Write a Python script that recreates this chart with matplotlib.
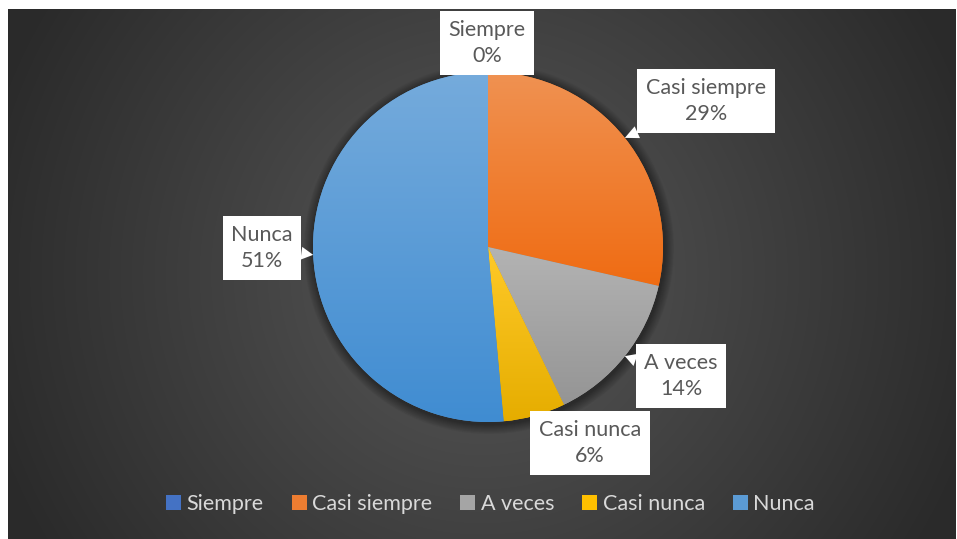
import numpy as np
import matplotlib.pyplot as plt
import colorsys
from matplotlib.colors import to_rgb

categorias = ["Siempre", "Casi siempre", "A veces", "Casi nunca", "Nunca"]
frecuencias = [0, 10, 5, 2, 18]
colores = ["#4472C4", "#ED7D31", "#A5A5A5", "#FFC000", "#5B9BD5"]

# label box centres, in pixels from the top-left corner (layout only)
pos_etiquetas = [(487, 43), (706, 101), (681, 376), (590, 443), (262, 248)]

W, H = 957, 539
FUENTE = ["Lato", "DejaVu Sans"]
plt.rcParams["font.family"] = FUENTE


def tono(col, dl, ds=1.0):
    h, l, s = colorsys.rgb_to_hls(*to_rgb(col))
    if dl > 0:
        l = l + (1 - l) * dl
    else:
        l = l * (1 + dl)
    return np.array(colorsys.hls_to_rgb(h, l, min(1.0, s * ds)))


fig = plt.figure(figsize=(W / 100, H / 100), dpi=100, facecolor="white")
ax = fig.add_axes([0, 0, 1, 1])
ax.axis("off")

# dark radial background
x0, x1, ytop = 8, 956, 9
yy, xx = np.mgrid[0:H - ytop, 0:x1 - x0]
r = np.hypot(xx - (x1 - x0) / 2, yy - (H - ytop) / 2)
v = (88 - 46 * np.clip(r / 520, 0, 1)) / 255
ax.imshow(np.dstack([v, v, v]), extent=[x0, x1, 0, H - ytop], origin="upper",
          aspect="auto", zorder=0, interpolation="bilinear")

cx, cy, R = 488, H - 247, 175

# soft shadow round the pie
for k in range(10, 0, -1):
    ax.add_patch(plt.Circle((cx + 1, cy - 2), R + k, fc="black", ec="none",
                            alpha=0.045, zorder=1))

wedges, _ = ax.pie(frecuencias, colors=colores, startangle=90, counterclock=False,
                   center=(cx, cy), radius=R, wedgeprops=dict(linewidth=0))
for w in wedges:
    w.set_zorder(2)

# vertical gradient in each slice, light on top
for w, col in zip(wedges, colores):
    if w.theta2 - w.theta1 <= 0:
        continue
    claro = tono(col, 0.16)
    oscuro = tono(col, -0.1, 1.04)
    t = np.linspace(0, 1, 256)[:, None, None]
    grad = oscuro * (1 - t) + claro * t
    bb = w.get_path().get_extents()
    im = ax.imshow(grad, extent=[bb.x0, bb.x1, bb.y0, bb.y1], origin="lower",
                   aspect="auto", zorder=3, interpolation="bilinear")
    im.set_clip_path(w)

total = sum(frecuencias)
for w, cat, val, (lx, ly) in zip(wedges, categorias, frecuencias, pos_etiquetas):
    pct = round(100 * val / total)
    ang = np.deg2rad((w.theta1 + w.theta2) / 2)
    px, py = cx + R * np.cos(ang), cy + R * np.sin(ang)
    flecha = None
    if val > 0:
        flecha = dict(arrowstyle="wedge,tail_width=0.6,shrink_factor=0.5",
                      fc="white", ec="none", shrinkA=0, shrinkB=0)
    ax.annotate(f"{cat}\n{pct}%", xy=(px, py), xytext=(lx, H - ly),
                ha="center", va="center", fontsize=15.5, color="#595959",
                linespacing=1.4, zorder=6,
                bbox=dict(boxstyle="square,pad=0.4", fc="white", ec="none"),
                arrowprops=flecha)

leg = ax.legend(wedges, categorias, loc="center",
                bbox_to_anchor=(0.5 + 12 / W, 1 - 504 / H),
                ncol=5, frameon=False, fontsize=15.5, handlelength=0.7,
                handleheight=0.7, handletextpad=0.25, columnspacing=1.3)
for txt in leg.get_texts():
    txt.set_color("#D9D9D9")

ax.set_xlim(0, W)
ax.set_ylim(0, H)
ax.set_aspect("auto")

fig.savefig("out.png", dpi=100, facecolor="white")
